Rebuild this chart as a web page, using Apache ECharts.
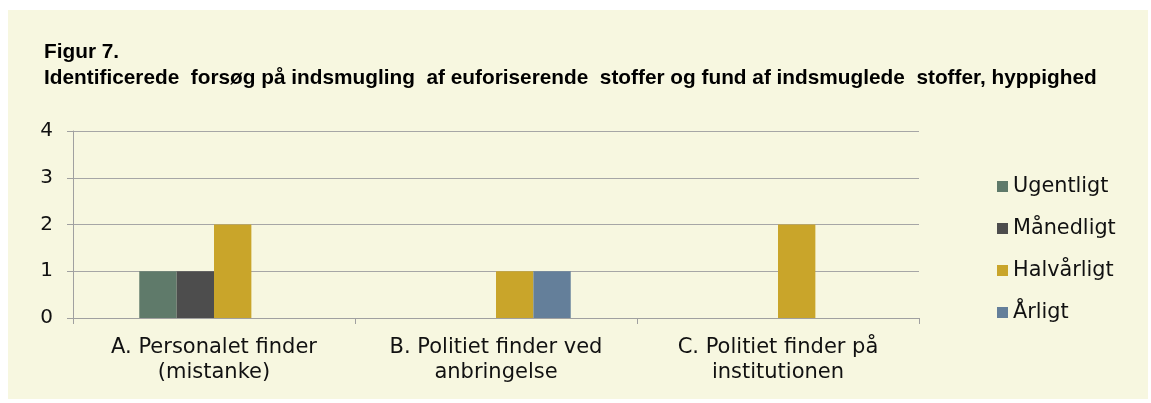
<!DOCTYPE html>
<html><head><meta charset="utf-8">
<script src="https://cdn.jsdelivr.net/npm/echarts@6/dist/echarts.min.js"></script>
<style>
html,body{margin:0;padding:0;background:#fff;}
#bg{position:absolute;left:8px;top:10px;width:1140px;height:389px;background:#F7F7E0;}
#c{position:absolute;left:0;top:0;width:1151px;height:403px;}
</style></head><body>
<div id="bg"></div>
<div id="c"></div>
<script>
const categories = ["A. Personalet finder\n(mistanke)", "B. Politiet finder ved\nanbringelse", "C. Politiet finder på\ninstitutionen"];
const seriesNames = ["Ugentligt", "Månedligt", "Halvårligt", "Årligt"];
const ugentligt = [1, 0, 0];
const maanedligt = [1, 0, 0];
const halvaarligt = [2, 1, 2];
const aarligt = [0, 1, 0];
const colors = ["#5F7A6A", "#4D4D4D", "#C9A52A", "#647F9A"];
const valueData = [ugentligt, maanedligt, halvaarligt, aarligt];

const chart = echarts.init(document.getElementById('c'), null, {renderer: 'canvas'});
const titleFont = "'Liberation Sans', Arial, sans-serif";
const font = "'DejaVu Sans', sans-serif";
chart.setOption({
  backgroundColor: 'transparent',
  animation: false,
  title: {
    text: "Figur 7.\nIdentificerede  forsøg på indsmugling  af euforiserende  stoffer og fund af indsmuglede  stoffer, hyppighed",
    left: 44, top: 39, padding: 0,
    textStyle: {fontFamily: titleFont, fontSize: 20.8, fontWeight: 'bold', color: '#000', lineHeight: 26}
  },
  legend: {
    orient: 'vertical', left: 992, top: 171,
    itemWidth: 11, itemHeight: 11, itemGap: 21, icon: 'rect',
    data: seriesNames,
    textStyle: {fontFamily: font, fontSize: 20.8, color: '#111'}
  },
  grid: {left: 73, right: 232, top: 131, bottom: 85, containLabel: false},
  xAxis: {
    type: 'category', data: categories,
    axisLine: {lineStyle: {color: '#A0A0A0', width: 1}},
    axisTick: {show: true, length: 6, alignWithLabel: false, lineStyle: {color: '#A0A0A0'}},
    axisLabel: {fontFamily: font, fontSize: 21, color: '#111', lineHeight: 25, margin: 17, interval: 0}
  },
  yAxis: {
    type: 'value', min: 0, max: 4, interval: 1,
    axisLine: {show: true, lineStyle: {color: '#A0A0A0'}},
    axisTick: {show: true, length: 6, lineStyle: {color: '#A0A0A0'}},
    splitLine: {lineStyle: {color: '#A6A6A6', width: 1}},
    axisLabel: {fontFamily: font, fontSize: 20, color: '#111', margin: 20}
  },
  series: seriesNames.map((n, i) => ({
    name: n, type: 'bar', data: valueData[i],
    itemStyle: {color: colors[i]},
    barGap: '0%', barCategoryGap: '47%'
  }))
});
</script>
</body></html>
